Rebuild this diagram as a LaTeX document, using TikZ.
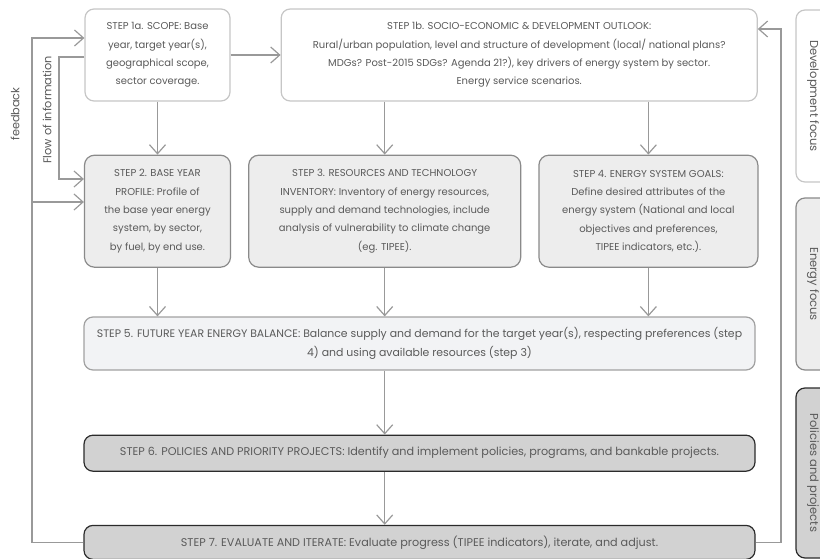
\documentclass[tikz,border=0pt]{standalone}
\usepackage{fontspec}
\setmainfont{Poppins}
\usepackage{xcolor}
\usetikzlibrary{positioning,arrows.meta}

\definecolor{txtgray}{HTML}{5A5A5A}
\definecolor{linegray}{HTML}{999999}
\definecolor{pale}{HTML}{C6C6C6}
\definecolor{midgray}{HTML}{8A8A8A}
\definecolor{midfill}{HTML}{EDEDED}
\definecolor{balfill}{HTML}{F2F3F5}
\definecolor{dark}{HTML}{2B2B2B}
\definecolor{darkfill}{HTML}{D2D2D2}

\begin{document}
\begin{tikzpicture}[x=1pt,y=-1pt,>={Straight Barb[length=9pt,width=16pt]},
    every node/.style={text=txtgray, font=\fontsize{10}{18.3}\selectfont, align=center, inner sep=0pt},
    scopebox/.style={draw=pale, fill=white, line width=1.2pt, rounded corners=9pt},
    stepbox/.style={draw=midgray, fill=midfill, line width=1.2pt, rounded corners=10pt},
    balbox/.style={draw=midgray!80, fill=balfill, line width=1.2pt, rounded corners=9pt,
        font=\fontsize{10.9}{18.3}\selectfont},
    actbox/.style={draw=dark, fill=darkfill, line width=1.2pt, rounded corners=9pt,
        font=\fontsize{11.2}{18.3}\selectfont},
    flow/.style={draw=linegray, line width=1.2pt},
    sidelabel/.style={rotate=90, font=\fontsize{11.3}{13}\selectfont},
    tab/.style={rotate=-90, minimum height=34pt, line width=1.2pt, rounded corners=9pt,
        font=\fontsize{11.5}{13}\selectfont}]
    \path[use as bounding box, clip] (0,0) rectangle (820,559);

    % first row
    \node[scopebox, minimum width=145pt, minimum height=92pt] (s1a) at (157.5,55)
        {STEP 1a. SCOPE: Base\\year, target year(s),\\geographical scope,\\sector coverage.};
    \node[scopebox, minimum width=476pt, minimum height=92pt, right=50pt of s1a] (s1b)
        {STEP 1b. SOCIO-ECONOMIC \& DEVELOPMENT OUTLOOK:\\
         Rural/urban population, level and structure of development (local/ national plans?\\
         MDGs? Post-2015 SDGs? Agenda 21?), key drivers of energy system by sector.\\
         Energy service scenarios.};

    % second row
    \node[stepbox, minimum width=146pt, minimum height=112pt, below=53pt of s1a] (s2)
        {STEP 2. BASE YEAR\\PROFILE: Profile of\\the base year energy\\system, by sector,\\by fuel, by end use.};
    \node[stepbox, minimum width=272pt, minimum height=112pt, right=17pt of s2] (s3)
        {STEP 3. RESOURCES AND TECHNOLOGY\\INVENTORY: Inventory of energy resources,\\
         supply and demand technologies, include\\analysis of vulnerability to climate change\\(eg. TIPEE).};
    \node[stepbox, minimum width=219pt, minimum height=112pt, right=17pt of s3] (s4)
        {STEP 4. ENERGY SYSTEM GOALS:\\Define desired attributes of the\\energy system (National and local\\
         objectives and preferences,\\TIPEE indicators, etc.).};

    % lower rows
    \node[balbox, minimum width=671pt, minimum height=53pt] (s5) at (419.5,343.5)
        {STEP 5. FUTURE YEAR ENERGY BALANCE: Balance supply and demand for the target year(s), respecting preferences (step\\
         4) and using available resources (step 3)};
    \node[actbox, minimum width=671pt, minimum height=36pt, below=64pt of s5] (s6)
        {STEP 6. POLICIES AND PRIORITY PROJECTS: Identify and implement policies, programs, and bankable projects.};
    \node[actbox, minimum width=671pt, minimum height=34pt, below=53pt of s6] (s7)
        {STEP 7. EVALUATE AND ITERATE: Evaluate progress (TIPEE indicators), iterate, and adjust.};

    % side tabs
    \node[tab, draw=pale, fill=white, minimum width=172pt] (dev) at (813,96) {Development focus};
    \node[tab, draw=midgray, fill=midfill, minimum width=172pt] (nrg) at (813,284) {Energy focus};
    \node[tab, draw=dark, fill=darkfill, minimum width=170pt] (pol) at (813,473) {Policies and projects};

    % downward arrows
    \draw[flow,->] (s1a) -- (s2);
    \draw[flow,->] (s3.north |- s1b.south) -- (s3.north);
    \draw[flow,->] (s4.north |- s1b.south) -- (s4.north);
    \draw[flow,->] (s1a.east) -- (s1a.east -| s1b.west);
    \draw[flow,->] (s2.south) -- (s2.south |- s5.north);
    \draw[flow,->] (s3.south) -- (s3.south |- s5.north);
    \draw[flow,->] (s4.south) -- (s4.south |- s5.north);
    \draw[flow,->] (s3.south |- s5.south) -- (s3.south |- s6.north);
    \draw[flow,->] (s3.south |- s6.south) -- (s3.south |- s7.north);

    % feedback loops
    \coordinate (fb) at (32,202);
    \coordinate (fi) at (59,179);
    \coordinate (fr) at (781,29);
    \draw[flow,->] (s7.west) -| (fb) |- ([yshift=17pt]s1a.west);
    \draw[flow,->] (fb) -- (fb -| s2.west);
    \draw[flow,->] ([yshift=-2pt]s1a.west) -| (fi) -- (fi -| s2.west);
    \draw[flow,->] (s7.east) -| (fr) -- (fr -| s1b.east);

    \node[sidelabel] (fbl) at (15,114) {feedback};
    \node[sidelabel] (fil) at (47,110) {Flow of information};
\end{tikzpicture}
\end{document}
